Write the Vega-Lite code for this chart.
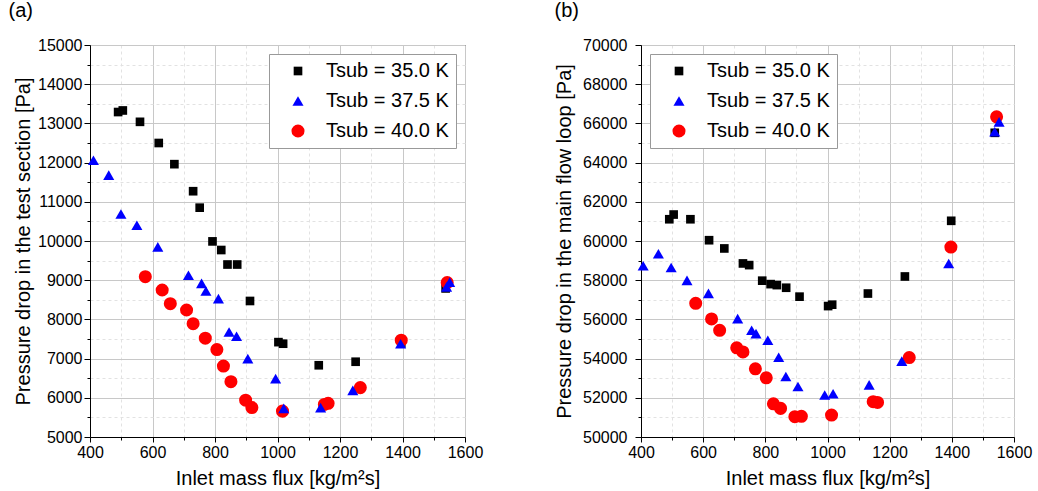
{
  "$schema": "https://vega.github.io/schema/vega-lite/v6.json",
  "padding": {"left": 8, "top": 0, "right": 4, "bottom": 2},
  "background": "white",
  "config": {
    "font": "Liberation Sans",
    "view": {"stroke": "#000000", "strokeWidth": 1},
    "axis": {"domainColor": "#000000", "tickColor": "#000000", "labelColor": "#000000", "titleColor": "#000000", "labelFontSize": 16, "titleFontSize": 20, "titleFontWeight": "normal", "labelFont": "Liberation Sans", "titleFont": "Liberation Sans", "labelFlush": false, "labelOverlap": false},
    "title": {"fontSize": 20, "fontWeight": "normal", "anchor": "start", "frame": "bounds", "color": "#000000", "font": "Liberation Sans"},
    "legend": {"title": null, "labelFontSize": 20, "labelFont": "Liberation Sans", "labelColor": "#000000", "symbolSize": 110, "padding": 7, "rowPadding": 10, "symbolOffset": 12, "labelOffset": 18, "strokeColor": "#999999", "fillColor": "#ffffff", "symbolStrokeWidth": 0, "offset": 9}
  },
  "datasets": {
    "ts": [
      {"flux": 490, "dp": 13290, "Tsub": "Tsub = 35.0 K"},
      {"flux": 505, "dp": 13330, "Tsub": "Tsub = 35.0 K"},
      {"flux": 560, "dp": 13040, "Tsub": "Tsub = 35.0 K"},
      {"flux": 620, "dp": 12500, "Tsub": "Tsub = 35.0 K"},
      {"flux": 670, "dp": 11960, "Tsub": "Tsub = 35.0 K"},
      {"flux": 730, "dp": 11270, "Tsub": "Tsub = 35.0 K"},
      {"flux": 751, "dp": 10850, "Tsub": "Tsub = 35.0 K"},
      {"flux": 792, "dp": 9990, "Tsub": "Tsub = 35.0 K"},
      {"flux": 820, "dp": 9770, "Tsub": "Tsub = 35.0 K"},
      {"flux": 840, "dp": 9400, "Tsub": "Tsub = 35.0 K"},
      {"flux": 871, "dp": 9400, "Tsub": "Tsub = 35.0 K"},
      {"flux": 912, "dp": 8470, "Tsub": "Tsub = 35.0 K"},
      {"flux": 1003, "dp": 7420, "Tsub": "Tsub = 35.0 K"},
      {"flux": 1018, "dp": 7380, "Tsub": "Tsub = 35.0 K"},
      {"flux": 1132, "dp": 6830, "Tsub": "Tsub = 35.0 K"},
      {"flux": 1250, "dp": 6920, "Tsub": "Tsub = 35.0 K"},
      {"flux": 1396, "dp": 7390, "Tsub": "Tsub = 35.0 K"},
      {"flux": 1538, "dp": 8790, "Tsub": "Tsub = 35.0 K"},
      {"flux": 577, "dp": 9090, "Tsub": "Tsub = 40.0 K"},
      {"flux": 631, "dp": 8750, "Tsub": "Tsub = 40.0 K"},
      {"flux": 657, "dp": 8400, "Tsub": "Tsub = 40.0 K"},
      {"flux": 709, "dp": 8240, "Tsub": "Tsub = 40.0 K"},
      {"flux": 730, "dp": 7890, "Tsub": "Tsub = 40.0 K"},
      {"flux": 769, "dp": 7520, "Tsub": "Tsub = 40.0 K"},
      {"flux": 806, "dp": 7230, "Tsub": "Tsub = 40.0 K"},
      {"flux": 827, "dp": 6810, "Tsub": "Tsub = 40.0 K"},
      {"flux": 851, "dp": 6410, "Tsub": "Tsub = 40.0 K"},
      {"flux": 898, "dp": 5940, "Tsub": "Tsub = 40.0 K"},
      {"flux": 918, "dp": 5750, "Tsub": "Tsub = 40.0 K"},
      {"flux": 1016, "dp": 5660, "Tsub": "Tsub = 40.0 K"},
      {"flux": 1150, "dp": 5830, "Tsub": "Tsub = 40.0 K"},
      {"flux": 1162, "dp": 5860, "Tsub": "Tsub = 40.0 K"},
      {"flux": 1265, "dp": 6260, "Tsub": "Tsub = 40.0 K"},
      {"flux": 1396, "dp": 7470, "Tsub": "Tsub = 40.0 K"},
      {"flux": 1543, "dp": 8940, "Tsub": "Tsub = 40.0 K"},
      {"flux": 411, "dp": 12060, "Tsub": "Tsub = 37.5 K"},
      {"flux": 460, "dp": 11680, "Tsub": "Tsub = 37.5 K"},
      {"flux": 499, "dp": 10690, "Tsub": "Tsub = 37.5 K"},
      {"flux": 550, "dp": 10400, "Tsub": "Tsub = 37.5 K"},
      {"flux": 617, "dp": 9850, "Tsub": "Tsub = 37.5 K"},
      {"flux": 715, "dp": 9125, "Tsub": "Tsub = 37.5 K"},
      {"flux": 757, "dp": 8920, "Tsub": "Tsub = 37.5 K"},
      {"flux": 771, "dp": 8725, "Tsub": "Tsub = 37.5 K"},
      {"flux": 811, "dp": 8530, "Tsub": "Tsub = 37.5 K"},
      {"flux": 845, "dp": 7680, "Tsub": "Tsub = 37.5 K"},
      {"flux": 869, "dp": 7570, "Tsub": "Tsub = 37.5 K"},
      {"flux": 905, "dp": 7000, "Tsub": "Tsub = 37.5 K"},
      {"flux": 994, "dp": 6490, "Tsub": "Tsub = 37.5 K"},
      {"flux": 1020, "dp": 5730, "Tsub": "Tsub = 37.5 K"},
      {"flux": 1138, "dp": 5750, "Tsub": "Tsub = 37.5 K"},
      {"flux": 1241, "dp": 6190, "Tsub": "Tsub = 37.5 K"},
      {"flux": 1394, "dp": 7380, "Tsub": "Tsub = 37.5 K"},
      {"flux": 1541, "dp": 8830, "Tsub": "Tsub = 37.5 K"},
      {"flux": 1551, "dp": 8950, "Tsub": "Tsub = 37.5 K"}
    ],
    "mf": [
      {"flux": 491, "dp": 61110, "Tsub": "Tsub = 35.0 K"},
      {"flux": 505, "dp": 61350, "Tsub": "Tsub = 35.0 K"},
      {"flux": 559, "dp": 61110, "Tsub": "Tsub = 35.0 K"},
      {"flux": 619, "dp": 60040, "Tsub": "Tsub = 35.0 K"},
      {"flux": 668, "dp": 59620, "Tsub": "Tsub = 35.0 K"},
      {"flux": 728, "dp": 58855, "Tsub": "Tsub = 35.0 K"},
      {"flux": 748, "dp": 58770, "Tsub": "Tsub = 35.0 K"},
      {"flux": 790, "dp": 57975, "Tsub": "Tsub = 35.0 K"},
      {"flux": 817, "dp": 57800, "Tsub": "Tsub = 35.0 K"},
      {"flux": 837, "dp": 57750, "Tsub": "Tsub = 35.0 K"},
      {"flux": 867, "dp": 57615, "Tsub": "Tsub = 35.0 K"},
      {"flux": 910, "dp": 57160, "Tsub": "Tsub = 35.0 K"},
      {"flux": 1002, "dp": 56680, "Tsub": "Tsub = 35.0 K"},
      {"flux": 1015, "dp": 56750, "Tsub": "Tsub = 35.0 K"},
      {"flux": 1130, "dp": 57320, "Tsub": "Tsub = 35.0 K"},
      {"flux": 1249, "dp": 58190, "Tsub": "Tsub = 35.0 K"},
      {"flux": 1398, "dp": 61030, "Tsub": "Tsub = 35.0 K"},
      {"flux": 1538, "dp": 65520, "Tsub": "Tsub = 35.0 K"},
      {"flux": 576, "dp": 56820, "Tsub": "Tsub = 40.0 K"},
      {"flux": 627, "dp": 56025, "Tsub": "Tsub = 40.0 K"},
      {"flux": 653, "dp": 55445, "Tsub": "Tsub = 40.0 K"},
      {"flux": 708, "dp": 54550, "Tsub": "Tsub = 40.0 K"},
      {"flux": 728, "dp": 54340, "Tsub": "Tsub = 40.0 K"},
      {"flux": 768, "dp": 53480, "Tsub": "Tsub = 40.0 K"},
      {"flux": 803, "dp": 53020, "Tsub": "Tsub = 40.0 K"},
      {"flux": 826, "dp": 51695, "Tsub": "Tsub = 40.0 K"},
      {"flux": 849, "dp": 51460, "Tsub": "Tsub = 40.0 K"},
      {"flux": 895, "dp": 51035, "Tsub": "Tsub = 40.0 K"},
      {"flux": 916, "dp": 51055, "Tsub": "Tsub = 40.0 K"},
      {"flux": 1013, "dp": 51120, "Tsub": "Tsub = 40.0 K"},
      {"flux": 1147, "dp": 51800, "Tsub": "Tsub = 40.0 K"},
      {"flux": 1161, "dp": 51765, "Tsub": "Tsub = 40.0 K"},
      {"flux": 1263, "dp": 54055, "Tsub": "Tsub = 40.0 K"},
      {"flux": 1397, "dp": 59690, "Tsub": "Tsub = 40.0 K"},
      {"flux": 1544, "dp": 66335, "Tsub": "Tsub = 40.0 K"},
      {"flux": 407, "dp": 58740, "Tsub": "Tsub = 37.5 K"},
      {"flux": 456, "dp": 59350, "Tsub": "Tsub = 37.5 K"},
      {"flux": 497, "dp": 58650, "Tsub": "Tsub = 37.5 K"},
      {"flux": 548, "dp": 57990, "Tsub": "Tsub = 37.5 K"},
      {"flux": 617, "dp": 57330, "Tsub": "Tsub = 37.5 K"},
      {"flux": 711, "dp": 56040, "Tsub": "Tsub = 37.5 K"},
      {"flux": 756, "dp": 55445, "Tsub": "Tsub = 37.5 K"},
      {"flux": 770, "dp": 55275, "Tsub": "Tsub = 37.5 K"},
      {"flux": 808, "dp": 54935, "Tsub": "Tsub = 37.5 K"},
      {"flux": 843, "dp": 54070, "Tsub": "Tsub = 37.5 K"},
      {"flux": 866, "dp": 53090, "Tsub": "Tsub = 37.5 K"},
      {"flux": 905, "dp": 52580, "Tsub": "Tsub = 37.5 K"},
      {"flux": 991, "dp": 52140, "Tsub": "Tsub = 37.5 K"},
      {"flux": 1018, "dp": 52205, "Tsub": "Tsub = 37.5 K"},
      {"flux": 1134, "dp": 52660, "Tsub": "Tsub = 37.5 K"},
      {"flux": 1239, "dp": 53870, "Tsub": "Tsub = 37.5 K"},
      {"flux": 1390, "dp": 58855, "Tsub": "Tsub = 37.5 K"},
      {"flux": 1538, "dp": 65570, "Tsub": "Tsub = 37.5 K"},
      {"flux": 1552, "dp": 66080, "Tsub": "Tsub = 37.5 K"}
    ]
  },
  "spacing": 70,
  "hconcat": [
    {
      "title": {"text": "(a)", "dx": -5, "offset": 16},
      "width": 375,
      "height": 392,
      "data": {"name": "ts"},
      "resolve": {"axis": {"x": "independent", "y": "independent"}},
      "layer": [
        {
          "mark": {"type": "point", "opacity": 0},
          "encoding": {
            "x": {"field": "flux", "type": "quantitative", "scale": {"domain": [400, 1600], "nice": false, "zero": false},
              "axis": {"orient": "bottom", "values": [500, 700, 900, 1100, 1300, 1500], "labels": false, "domain": false, "tickSize": 3, "grid": true, "gridColor": "#e2e2e2", "gridDash": [3, 3], "title": null}},
            "y": {"field": "dp", "type": "quantitative", "scale": {"domain": [5000, 15000], "nice": false, "zero": false},
              "axis": {"orient": "left", "values": [5500, 6500, 7500, 8500, 9500, 10500, 11500, 12500, 13500, 14500], "labels": false, "domain": false, "tickSize": 3, "grid": true, "gridColor": "#e2e2e2", "gridDash": [3, 3], "title": null}}
          }
        },
        {
          "mark": {"type": "point", "filled": true, "opacity": 1},
          "encoding": {
            "x": {"field": "flux", "type": "quantitative", "scale": {"domain": [400, 1600], "nice": false, "zero": false},
              "axis": {"orient": "bottom", "values": [400, 600, 800, 1000, 1200, 1400, 1600], "format": "d", "tickSize": 5, "labelPadding": 2, "grid": true, "gridColor": "#c8c8c8", "title": "Inlet mass flux [kg/m²s]", "titlePadding": 8}},
            "y": {"field": "dp", "type": "quantitative", "scale": {"domain": [5000, 15000], "nice": false, "zero": false},
              "axis": {"orient": "left", "values": [5000, 6000, 7000, 8000, 9000, 10000, 11000, 12000, 13000, 14000, 15000], "format": "d", "tickSize": 6, "labelPadding": 2, "grid": true, "gridColor": "#c8c8c8", "title": "Pressure drop in the test section [Pa]", "titlePadding": 4}},
            "color": {"field": "Tsub", "type": "nominal", "scale": {"domain": ["Tsub = 35.0 K", "Tsub = 37.5 K", "Tsub = 40.0 K"], "range": ["#000000", "#0000ff", "#ff0000"]}, "legend": {"orient": "top-right"}},
            "shape": {"field": "Tsub", "type": "nominal", "scale": {"domain": ["Tsub = 35.0 K", "Tsub = 37.5 K", "Tsub = 40.0 K"], "range": ["square", "triangle-up", "circle"]}, "legend": {"orient": "top-right"}},
            "size": {"field": "Tsub", "type": "nominal", "scale": {"domain": ["Tsub = 35.0 K", "Tsub = 37.5 K", "Tsub = 40.0 K"], "range": [75, 170, 85]}, "legend": null}
          }
        }
      ]
    },
    {
      "title": {"text": "(b)", "dx": 0, "offset": 16},
      "width": 373,
      "height": 392,
      "data": {"name": "mf"},
      "resolve": {"axis": {"x": "independent", "y": "independent"}},
      "layer": [
        {
          "mark": {"type": "point", "opacity": 0},
          "encoding": {
            "x": {"field": "flux", "type": "quantitative", "scale": {"domain": [400, 1600], "nice": false, "zero": false},
              "axis": {"orient": "bottom", "values": [500, 700, 900, 1100, 1300, 1500], "labels": false, "domain": false, "tickSize": 3, "grid": true, "gridColor": "#e2e2e2", "gridDash": [3, 3], "title": null}},
            "y": {"field": "dp", "type": "quantitative", "scale": {"domain": [50000, 70000], "nice": false, "zero": false},
              "axis": {"orient": "left", "values": [51000, 53000, 55000, 57000, 59000, 61000, 63000, 65000, 67000, 69000], "labels": false, "domain": false, "tickSize": 3, "grid": true, "gridColor": "#e2e2e2", "gridDash": [3, 3], "title": null}}
          }
        },
        {
          "mark": {"type": "point", "filled": true, "opacity": 1},
          "encoding": {
            "x": {"field": "flux", "type": "quantitative", "scale": {"domain": [400, 1600], "nice": false, "zero": false},
              "axis": {"orient": "bottom", "values": [400, 600, 800, 1000, 1200, 1400, 1600], "format": "d", "tickSize": 5, "labelPadding": 2, "grid": true, "gridColor": "#c8c8c8", "title": "Inlet mass flux [kg/m²s]", "titlePadding": 8}},
            "y": {"field": "dp", "type": "quantitative", "scale": {"domain": [50000, 70000], "nice": false, "zero": false},
              "axis": {"orient": "left", "values": [50000, 52000, 54000, 56000, 58000, 60000, 62000, 64000, 66000, 68000, 70000], "format": "d", "tickSize": 6, "labelPadding": 8, "grid": true, "gridColor": "#c8c8c8", "title": "Pressure drop in the main flow loop [Pa]", "titlePadding": 8}},
            "color": {"field": "Tsub", "type": "nominal", "scale": {"domain": ["Tsub = 35.0 K", "Tsub = 37.5 K", "Tsub = 40.0 K"], "range": ["#000000", "#0000ff", "#ff0000"]}, "legend": {"orient": "top-left"}},
            "shape": {"field": "Tsub", "type": "nominal", "scale": {"domain": ["Tsub = 35.0 K", "Tsub = 37.5 K", "Tsub = 40.0 K"], "range": ["square", "triangle-up", "circle"]}, "legend": {"orient": "top-left"}},
            "size": {"field": "Tsub", "type": "nominal", "scale": {"domain": ["Tsub = 35.0 K", "Tsub = 37.5 K", "Tsub = 40.0 K"], "range": [75, 170, 85]}, "legend": null}
          }
        }
      ]
    }
  ],
  "resolve": {"scale": {"color": "independent", "shape": "independent", "size": "independent"}, "legend": {"color": "independent", "shape": "independent"}}
}
